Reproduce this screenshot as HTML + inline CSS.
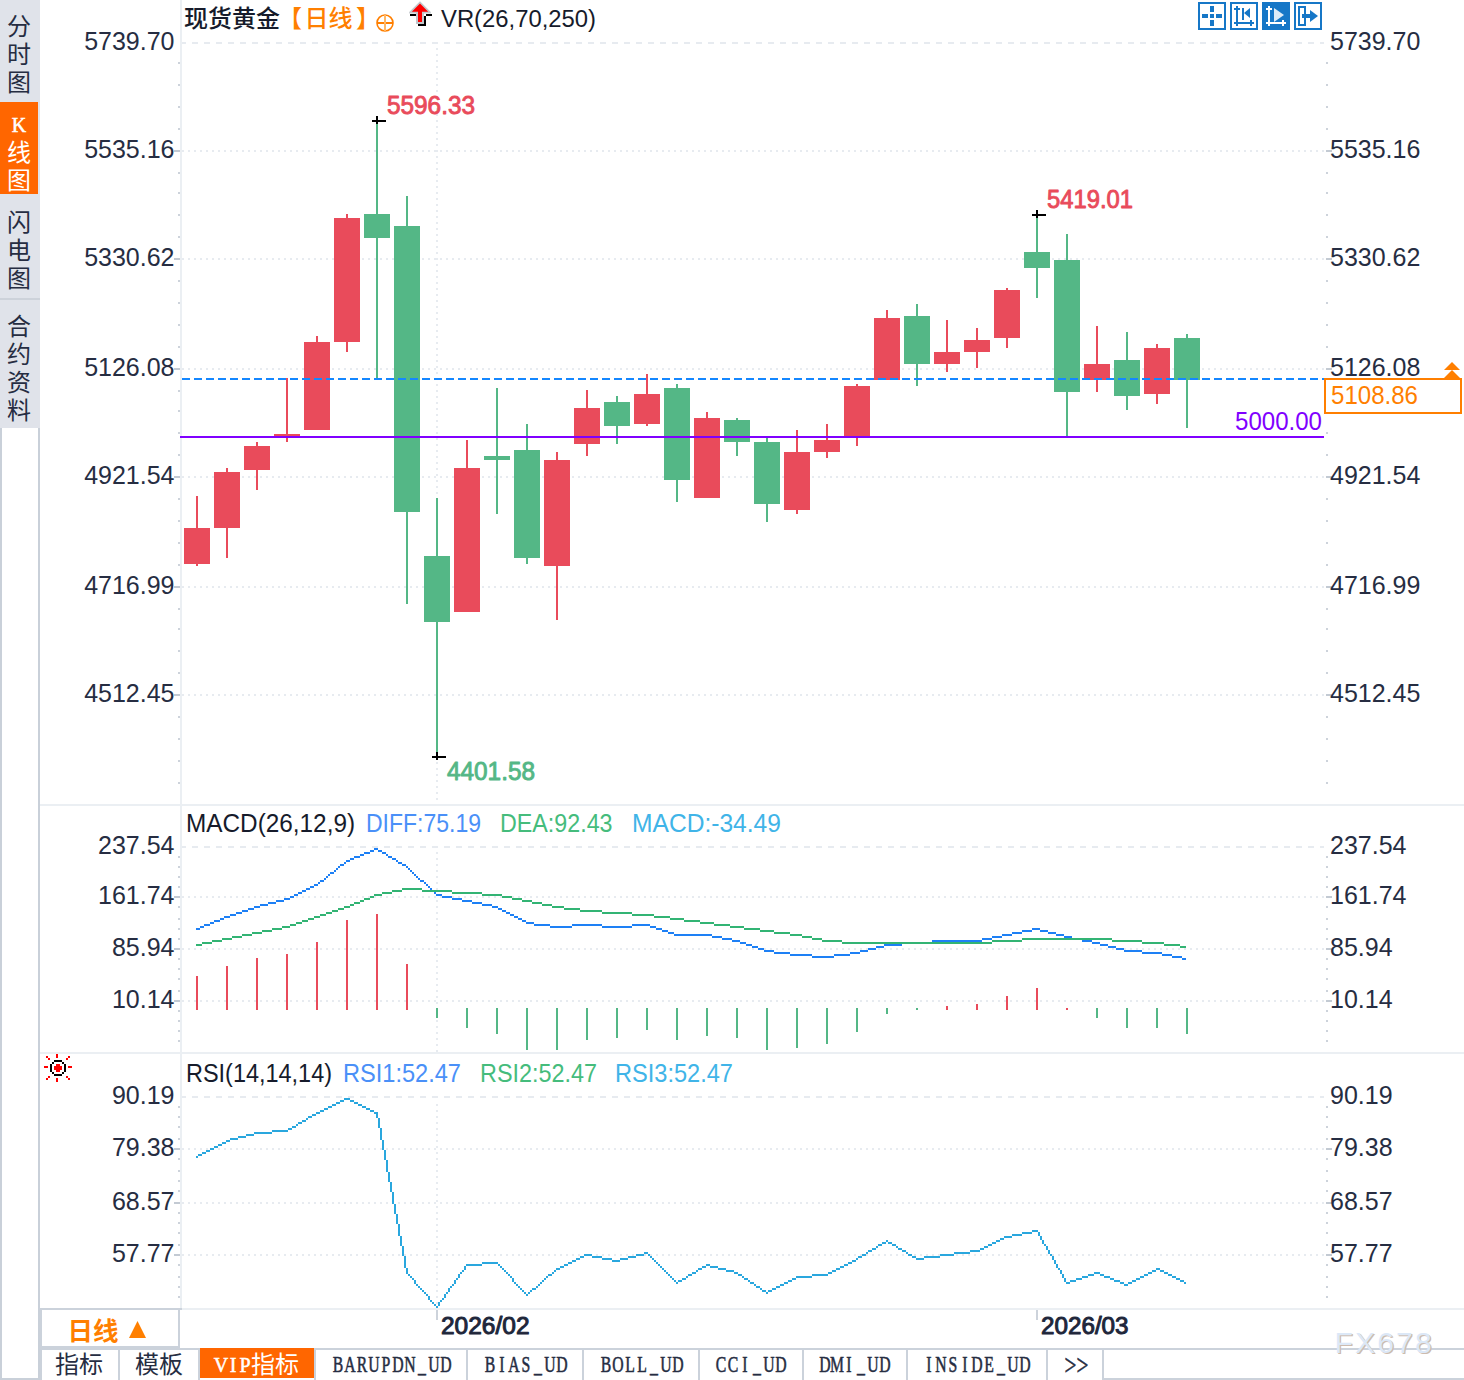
<!DOCTYPE html>
<html lang="zh-CN"><head><meta charset="utf-8"><title>现货黄金 日线</title>
<style>html,body{margin:0;padding:0;background:#fff}body{width:1464px;height:1380px;overflow:hidden}svg{display:block}text{white-space:pre}</style>
</head><body>
<svg width="1464" height="1380" viewBox="0 0 1464 1380" shape-rendering="crispEdges">
<defs><pattern id="dot" x="182" y="0" width="6" height="2" patternUnits="userSpaceOnUse"><rect x="0" y="0" width="2" height="2" fill="#E7EBF0"/></pattern><pattern id="dash" x="180" y="0" width="12" height="2" patternUnits="userSpaceOnUse"><rect x="0" y="0" width="6" height="2" fill="#E7EBF0"/></pattern><pattern id="vdot" x="0" y="48" width="2" height="6" patternUnits="userSpaceOnUse"><rect x="0" y="0" width="2" height="2" fill="#E7EBF0"/></pattern><pattern id="bdash" x="182" y="0" width="12" height="2" patternUnits="userSpaceOnUse"><rect x="0" y="0" width="8" height="2" fill="#1487FF"/></pattern></defs>
<rect x="0" y="0" width="1464" height="1380" fill="#FFFFFF"/>
<rect x="0" y="0" width="40" height="428" fill="#E0E3EA"/>
<rect x="0" y="102" width="38" height="92" fill="#FF6600"/>
<rect x="0" y="298" width="40" height="2" fill="#CDD2DA"/>
<rect x="0" y="428" width="2" height="952" fill="#C9D0D9"/>
<rect x="38" y="428" width="2" height="952" fill="#C9D0D9"/>
<rect x="0" y="1378" width="40" height="2" fill="#C9D0D9"/>
<text x="19 19 19" y="35 63 91" font-size="24" fill="#262D42" font-family='"Liberation Mono","Noto Sans CJK SC",monospace' text-anchor="middle">分时图</text>
<text x="19 19 19" y="132 161 189" font-size="24" fill="#FFFFFF" font-family='"Liberation Mono","Noto Sans CJK SC",monospace' text-anchor="middle"><tspan font-family='"Liberation Serif",serif' font-size="20" stroke="#FFFFFF" stroke-width="0.5">K</tspan>线图</text>
<text x="19 19 19" y="231 259 287" font-size="24" fill="#262D42" font-family='"Liberation Mono","Noto Sans CJK SC",monospace' text-anchor="middle">闪电图</text>
<text x="19 19 19 19" y="335 363 391 419" font-size="24" fill="#262D42" font-family='"Liberation Mono","Noto Sans CJK SC",monospace' text-anchor="middle">合约资料</text>
<rect x="180" y="0" width="2" height="1310" fill="#EBEFF3"/>
<rect x="40" y="804" width="1424" height="2" fill="#EBEFF3"/>
<rect x="40" y="1052" width="1424" height="2" fill="#EBEFF3"/>
<rect x="40" y="1308" width="1424" height="2" fill="#EBEFF3"/>
<rect x="182" y="42" width="1142" height="2" fill="url(#dash)"/>
<rect x="182" y="150" width="1142" height="2" fill="url(#dot)"/>
<rect x="182" y="258" width="1142" height="2" fill="url(#dot)"/>
<rect x="182" y="368" width="1142" height="2" fill="url(#dot)"/>
<rect x="182" y="476" width="1142" height="2" fill="url(#dot)"/>
<rect x="182" y="586" width="1142" height="2" fill="url(#dot)"/>
<rect x="182" y="694" width="1142" height="2" fill="url(#dot)"/>
<rect x="182" y="846" width="1142" height="2" fill="url(#dash)"/>
<rect x="182" y="896" width="1142" height="2" fill="url(#dot)"/>
<rect x="182" y="948" width="1142" height="2" fill="url(#dot)"/>
<rect x="182" y="1000" width="1142" height="2" fill="url(#dot)"/>
<rect x="182" y="1096" width="1142" height="2" fill="url(#dash)"/>
<rect x="182" y="1148" width="1142" height="2" fill="url(#dot)"/>
<rect x="182" y="1202" width="1142" height="2" fill="url(#dot)"/>
<rect x="182" y="1254" width="1142" height="2" fill="url(#dot)"/>
<rect x="436" y="48" width="2" height="756" fill="url(#vdot)"/>
<rect x="436" y="852" width="2" height="200" fill="url(#vdot)"/>
<rect x="436" y="1102" width="2" height="206" fill="url(#vdot)"/>
<rect x="178" y="62" width="2" height="2" fill="#CDD3DB"/>
<rect x="1326" y="62" width="2" height="2" fill="#CDD3DB"/>
<rect x="178" y="84" width="2" height="2" fill="#CDD3DB"/>
<rect x="1326" y="84" width="2" height="2" fill="#CDD3DB"/>
<rect x="178" y="106" width="2" height="2" fill="#CDD3DB"/>
<rect x="1326" y="106" width="2" height="2" fill="#CDD3DB"/>
<rect x="178" y="128" width="2" height="2" fill="#CDD3DB"/>
<rect x="1326" y="128" width="2" height="2" fill="#CDD3DB"/>
<rect x="178" y="172" width="2" height="2" fill="#CDD3DB"/>
<rect x="1326" y="172" width="2" height="2" fill="#CDD3DB"/>
<rect x="178" y="192" width="2" height="2" fill="#CDD3DB"/>
<rect x="1326" y="192" width="2" height="2" fill="#CDD3DB"/>
<rect x="178" y="214" width="2" height="2" fill="#CDD3DB"/>
<rect x="1326" y="214" width="2" height="2" fill="#CDD3DB"/>
<rect x="178" y="236" width="2" height="2" fill="#CDD3DB"/>
<rect x="1326" y="236" width="2" height="2" fill="#CDD3DB"/>
<rect x="178" y="280" width="2" height="2" fill="#CDD3DB"/>
<rect x="1326" y="280" width="2" height="2" fill="#CDD3DB"/>
<rect x="178" y="302" width="2" height="2" fill="#CDD3DB"/>
<rect x="1326" y="302" width="2" height="2" fill="#CDD3DB"/>
<rect x="178" y="324" width="2" height="2" fill="#CDD3DB"/>
<rect x="1326" y="324" width="2" height="2" fill="#CDD3DB"/>
<rect x="178" y="346" width="2" height="2" fill="#CDD3DB"/>
<rect x="1326" y="346" width="2" height="2" fill="#CDD3DB"/>
<rect x="178" y="390" width="2" height="2" fill="#CDD3DB"/>
<rect x="1326" y="390" width="2" height="2" fill="#CDD3DB"/>
<rect x="178" y="410" width="2" height="2" fill="#CDD3DB"/>
<rect x="1326" y="410" width="2" height="2" fill="#CDD3DB"/>
<rect x="178" y="432" width="2" height="2" fill="#CDD3DB"/>
<rect x="1326" y="432" width="2" height="2" fill="#CDD3DB"/>
<rect x="178" y="454" width="2" height="2" fill="#CDD3DB"/>
<rect x="1326" y="454" width="2" height="2" fill="#CDD3DB"/>
<rect x="178" y="498" width="2" height="2" fill="#CDD3DB"/>
<rect x="1326" y="498" width="2" height="2" fill="#CDD3DB"/>
<rect x="178" y="520" width="2" height="2" fill="#CDD3DB"/>
<rect x="1326" y="520" width="2" height="2" fill="#CDD3DB"/>
<rect x="178" y="542" width="2" height="2" fill="#CDD3DB"/>
<rect x="1326" y="542" width="2" height="2" fill="#CDD3DB"/>
<rect x="178" y="564" width="2" height="2" fill="#CDD3DB"/>
<rect x="1326" y="564" width="2" height="2" fill="#CDD3DB"/>
<rect x="178" y="608" width="2" height="2" fill="#CDD3DB"/>
<rect x="1326" y="608" width="2" height="2" fill="#CDD3DB"/>
<rect x="178" y="628" width="2" height="2" fill="#CDD3DB"/>
<rect x="1326" y="628" width="2" height="2" fill="#CDD3DB"/>
<rect x="178" y="650" width="2" height="2" fill="#CDD3DB"/>
<rect x="1326" y="650" width="2" height="2" fill="#CDD3DB"/>
<rect x="178" y="672" width="2" height="2" fill="#CDD3DB"/>
<rect x="1326" y="672" width="2" height="2" fill="#CDD3DB"/>
<rect x="178" y="716" width="2" height="2" fill="#CDD3DB"/>
<rect x="1326" y="716" width="2" height="2" fill="#CDD3DB"/>
<rect x="178" y="738" width="2" height="2" fill="#CDD3DB"/>
<rect x="1326" y="738" width="2" height="2" fill="#CDD3DB"/>
<rect x="178" y="760" width="2" height="2" fill="#CDD3DB"/>
<rect x="1326" y="760" width="2" height="2" fill="#CDD3DB"/>
<rect x="178" y="782" width="2" height="2" fill="#CDD3DB"/>
<rect x="1326" y="782" width="2" height="2" fill="#CDD3DB"/>
<rect x="174" y="150" width="6" height="2" fill="#C3CAD3"/>
<rect x="1326" y="150" width="6" height="2" fill="#C3CAD3"/>
<rect x="174" y="258" width="6" height="2" fill="#C3CAD3"/>
<rect x="1326" y="258" width="6" height="2" fill="#C3CAD3"/>
<rect x="174" y="368" width="6" height="2" fill="#C3CAD3"/>
<rect x="1326" y="368" width="6" height="2" fill="#C3CAD3"/>
<rect x="174" y="476" width="6" height="2" fill="#C3CAD3"/>
<rect x="1326" y="476" width="6" height="2" fill="#C3CAD3"/>
<rect x="174" y="586" width="6" height="2" fill="#C3CAD3"/>
<rect x="1326" y="586" width="6" height="2" fill="#C3CAD3"/>
<rect x="174" y="694" width="6" height="2" fill="#C3CAD3"/>
<rect x="1326" y="694" width="6" height="2" fill="#C3CAD3"/>
<rect x="178" y="856" width="2" height="2" fill="#CDD3DB"/>
<rect x="1326" y="856" width="2" height="2" fill="#CDD3DB"/>
<rect x="178" y="866" width="2" height="2" fill="#CDD3DB"/>
<rect x="1326" y="866" width="2" height="2" fill="#CDD3DB"/>
<rect x="178" y="876" width="2" height="2" fill="#CDD3DB"/>
<rect x="1326" y="876" width="2" height="2" fill="#CDD3DB"/>
<rect x="178" y="886" width="2" height="2" fill="#CDD3DB"/>
<rect x="1326" y="886" width="2" height="2" fill="#CDD3DB"/>
<rect x="178" y="906" width="2" height="2" fill="#CDD3DB"/>
<rect x="1326" y="906" width="2" height="2" fill="#CDD3DB"/>
<rect x="178" y="918" width="2" height="2" fill="#CDD3DB"/>
<rect x="1326" y="918" width="2" height="2" fill="#CDD3DB"/>
<rect x="178" y="928" width="2" height="2" fill="#CDD3DB"/>
<rect x="1326" y="928" width="2" height="2" fill="#CDD3DB"/>
<rect x="178" y="938" width="2" height="2" fill="#CDD3DB"/>
<rect x="1326" y="938" width="2" height="2" fill="#CDD3DB"/>
<rect x="178" y="958" width="2" height="2" fill="#CDD3DB"/>
<rect x="1326" y="958" width="2" height="2" fill="#CDD3DB"/>
<rect x="178" y="968" width="2" height="2" fill="#CDD3DB"/>
<rect x="1326" y="968" width="2" height="2" fill="#CDD3DB"/>
<rect x="178" y="978" width="2" height="2" fill="#CDD3DB"/>
<rect x="1326" y="978" width="2" height="2" fill="#CDD3DB"/>
<rect x="178" y="990" width="2" height="2" fill="#CDD3DB"/>
<rect x="1326" y="990" width="2" height="2" fill="#CDD3DB"/>
<rect x="178" y="1010" width="2" height="2" fill="#CDD3DB"/>
<rect x="1326" y="1010" width="2" height="2" fill="#CDD3DB"/>
<rect x="178" y="1020" width="2" height="2" fill="#CDD3DB"/>
<rect x="1326" y="1020" width="2" height="2" fill="#CDD3DB"/>
<rect x="178" y="1030" width="2" height="2" fill="#CDD3DB"/>
<rect x="1326" y="1030" width="2" height="2" fill="#CDD3DB"/>
<rect x="178" y="1040" width="2" height="2" fill="#CDD3DB"/>
<rect x="1326" y="1040" width="2" height="2" fill="#CDD3DB"/>
<rect x="178" y="1106" width="2" height="2" fill="#CDD3DB"/>
<rect x="1326" y="1106" width="2" height="2" fill="#CDD3DB"/>
<rect x="178" y="1116" width="2" height="2" fill="#CDD3DB"/>
<rect x="1326" y="1116" width="2" height="2" fill="#CDD3DB"/>
<rect x="178" y="1126" width="2" height="2" fill="#CDD3DB"/>
<rect x="1326" y="1126" width="2" height="2" fill="#CDD3DB"/>
<rect x="178" y="1138" width="2" height="2" fill="#CDD3DB"/>
<rect x="1326" y="1138" width="2" height="2" fill="#CDD3DB"/>
<rect x="178" y="1158" width="2" height="2" fill="#CDD3DB"/>
<rect x="1326" y="1158" width="2" height="2" fill="#CDD3DB"/>
<rect x="178" y="1170" width="2" height="2" fill="#CDD3DB"/>
<rect x="1326" y="1170" width="2" height="2" fill="#CDD3DB"/>
<rect x="178" y="1180" width="2" height="2" fill="#CDD3DB"/>
<rect x="1326" y="1180" width="2" height="2" fill="#CDD3DB"/>
<rect x="178" y="1190" width="2" height="2" fill="#CDD3DB"/>
<rect x="1326" y="1190" width="2" height="2" fill="#CDD3DB"/>
<rect x="178" y="1212" width="2" height="2" fill="#CDD3DB"/>
<rect x="1326" y="1212" width="2" height="2" fill="#CDD3DB"/>
<rect x="178" y="1222" width="2" height="2" fill="#CDD3DB"/>
<rect x="1326" y="1222" width="2" height="2" fill="#CDD3DB"/>
<rect x="178" y="1232" width="2" height="2" fill="#CDD3DB"/>
<rect x="1326" y="1232" width="2" height="2" fill="#CDD3DB"/>
<rect x="178" y="1244" width="2" height="2" fill="#CDD3DB"/>
<rect x="1326" y="1244" width="2" height="2" fill="#CDD3DB"/>
<rect x="178" y="1264" width="2" height="2" fill="#CDD3DB"/>
<rect x="1326" y="1264" width="2" height="2" fill="#CDD3DB"/>
<rect x="178" y="1276" width="2" height="2" fill="#CDD3DB"/>
<rect x="1326" y="1276" width="2" height="2" fill="#CDD3DB"/>
<rect x="178" y="1286" width="2" height="2" fill="#CDD3DB"/>
<rect x="1326" y="1286" width="2" height="2" fill="#CDD3DB"/>
<rect x="178" y="1296" width="2" height="2" fill="#CDD3DB"/>
<rect x="1326" y="1296" width="2" height="2" fill="#CDD3DB"/>
<rect x="174" y="896" width="6" height="2" fill="#C3CAD3"/>
<rect x="1326" y="896" width="6" height="2" fill="#C3CAD3"/>
<rect x="174" y="948" width="6" height="2" fill="#C3CAD3"/>
<rect x="1326" y="948" width="6" height="2" fill="#C3CAD3"/>
<rect x="174" y="1000" width="6" height="2" fill="#C3CAD3"/>
<rect x="1326" y="1000" width="6" height="2" fill="#C3CAD3"/>
<rect x="174" y="1148" width="6" height="2" fill="#C3CAD3"/>
<rect x="1326" y="1148" width="6" height="2" fill="#C3CAD3"/>
<rect x="174" y="1202" width="6" height="2" fill="#C3CAD3"/>
<rect x="1326" y="1202" width="6" height="2" fill="#C3CAD3"/>
<rect x="174" y="1254" width="6" height="2" fill="#C3CAD3"/>
<rect x="1326" y="1254" width="6" height="2" fill="#C3CAD3"/>
<rect x="196" y="496" width="2" height="70" fill="#E94B5B"/>
<rect x="184" y="528" width="26" height="36" fill="#E94B5B"/>
<rect x="226" y="468" width="2" height="90" fill="#E94B5B"/>
<rect x="214" y="472" width="26" height="56" fill="#E94B5B"/>
<rect x="256" y="442" width="2" height="48" fill="#E94B5B"/>
<rect x="244" y="446" width="26" height="24" fill="#E94B5B"/>
<rect x="286" y="378" width="2" height="64" fill="#E94B5B"/>
<rect x="274" y="434" width="26" height="2" fill="#E94B5B"/>
<rect x="316" y="336" width="2" height="94" fill="#E94B5B"/>
<rect x="304" y="342" width="26" height="88" fill="#E94B5B"/>
<rect x="346" y="214" width="2" height="138" fill="#E94B5B"/>
<rect x="334" y="218" width="26" height="124" fill="#E94B5B"/>
<rect x="376" y="120" width="2" height="260" fill="#54B786"/>
<rect x="364" y="214" width="26" height="24" fill="#54B786"/>
<rect x="406" y="196" width="2" height="408" fill="#54B786"/>
<rect x="394" y="226" width="26" height="286" fill="#54B786"/>
<rect x="436" y="498" width="2" height="258" fill="#54B786"/>
<rect x="424" y="556" width="26" height="66" fill="#54B786"/>
<rect x="466" y="440" width="2" height="172" fill="#E94B5B"/>
<rect x="454" y="468" width="26" height="144" fill="#E94B5B"/>
<rect x="496" y="388" width="2" height="126" fill="#54B786"/>
<rect x="484" y="456" width="26" height="4" fill="#54B786"/>
<rect x="526" y="424" width="2" height="140" fill="#54B786"/>
<rect x="514" y="450" width="26" height="108" fill="#54B786"/>
<rect x="556" y="452" width="2" height="168" fill="#E94B5B"/>
<rect x="544" y="460" width="26" height="106" fill="#E94B5B"/>
<rect x="586" y="390" width="2" height="66" fill="#E94B5B"/>
<rect x="574" y="408" width="26" height="36" fill="#E94B5B"/>
<rect x="616" y="396" width="2" height="48" fill="#54B786"/>
<rect x="604" y="402" width="26" height="24" fill="#54B786"/>
<rect x="646" y="374" width="2" height="52" fill="#E94B5B"/>
<rect x="634" y="394" width="26" height="30" fill="#E94B5B"/>
<rect x="676" y="384" width="2" height="118" fill="#54B786"/>
<rect x="664" y="388" width="26" height="92" fill="#54B786"/>
<rect x="706" y="412" width="2" height="86" fill="#E94B5B"/>
<rect x="694" y="418" width="26" height="80" fill="#E94B5B"/>
<rect x="736" y="418" width="2" height="38" fill="#54B786"/>
<rect x="724" y="420" width="26" height="22" fill="#54B786"/>
<rect x="766" y="438" width="2" height="84" fill="#54B786"/>
<rect x="754" y="442" width="26" height="62" fill="#54B786"/>
<rect x="796" y="430" width="2" height="84" fill="#E94B5B"/>
<rect x="784" y="452" width="26" height="58" fill="#E94B5B"/>
<rect x="826" y="424" width="2" height="34" fill="#E94B5B"/>
<rect x="814" y="440" width="26" height="12" fill="#E94B5B"/>
<rect x="856" y="384" width="2" height="62" fill="#E94B5B"/>
<rect x="844" y="386" width="26" height="52" fill="#E94B5B"/>
<rect x="886" y="310" width="2" height="70" fill="#E94B5B"/>
<rect x="874" y="318" width="26" height="62" fill="#E94B5B"/>
<rect x="916" y="304" width="2" height="82" fill="#54B786"/>
<rect x="904" y="316" width="26" height="48" fill="#54B786"/>
<rect x="946" y="320" width="2" height="52" fill="#E94B5B"/>
<rect x="934" y="352" width="26" height="12" fill="#E94B5B"/>
<rect x="976" y="328" width="2" height="40" fill="#E94B5B"/>
<rect x="964" y="340" width="26" height="12" fill="#E94B5B"/>
<rect x="1006" y="288" width="2" height="60" fill="#E94B5B"/>
<rect x="994" y="290" width="26" height="48" fill="#E94B5B"/>
<rect x="1036" y="216" width="2" height="82" fill="#54B786"/>
<rect x="1024" y="252" width="26" height="16" fill="#54B786"/>
<rect x="1066" y="234" width="2" height="202" fill="#54B786"/>
<rect x="1054" y="260" width="26" height="132" fill="#54B786"/>
<rect x="1096" y="326" width="2" height="66" fill="#E94B5B"/>
<rect x="1084" y="364" width="26" height="16" fill="#E94B5B"/>
<rect x="1126" y="332" width="2" height="78" fill="#54B786"/>
<rect x="1114" y="360" width="26" height="36" fill="#54B786"/>
<rect x="1156" y="344" width="2" height="60" fill="#E94B5B"/>
<rect x="1144" y="348" width="26" height="46" fill="#E94B5B"/>
<rect x="1186" y="334" width="2" height="94" fill="#54B786"/>
<rect x="1174" y="338" width="26" height="42" fill="#54B786"/>
<rect x="182" y="378" width="1142" height="2" fill="url(#bdash)"/>
<rect x="180" y="436" width="1144" height="2" fill="#8000FF"/>
<text x="1235.00" y="430" font-size="25" fill="#8000FF" font-family='"Liberation Sans","Noto Sans CJK SC",sans-serif' font-weight="normal" textLength="87.00" lengthAdjust="spacingAndGlyphs">5000.00</text>
<rect x="372" y="120" width="14" height="2" fill="#000"/>
<rect x="376" y="116" width="2" height="8" fill="#000"/>
<rect x="1032" y="214" width="14" height="2" fill="#000"/>
<rect x="1036" y="210" width="2" height="8" fill="#000"/>
<rect x="432" y="756" width="14" height="2" fill="#000"/>
<rect x="436" y="752" width="2" height="8" fill="#000"/>
<text x="387.00" y="114" font-size="25" fill="#E94B5B" font-family='"Liberation Sans","Noto Sans CJK SC",sans-serif' font-weight="normal" textLength="88.00" lengthAdjust="spacingAndGlyphs" stroke="#E94B5B" stroke-width="0.9" stroke-linejoin="round">5596.33</text>
<text x="1047.00" y="208" font-size="25" fill="#E94B5B" font-family='"Liberation Sans","Noto Sans CJK SC",sans-serif' font-weight="normal" textLength="86.00" lengthAdjust="spacingAndGlyphs" stroke="#E94B5B" stroke-width="0.9" stroke-linejoin="round">5419.01</text>
<text x="447.00" y="780" font-size="25" fill="#54B786" font-family='"Liberation Sans","Noto Sans CJK SC",sans-serif' font-weight="normal" textLength="88.00" lengthAdjust="spacingAndGlyphs" stroke="#54B786" stroke-width="0.9" stroke-linejoin="round">4401.58</text>
<text x="174.5" y="50" font-size="25" fill="#262D42" font-family='"Liberation Sans","Noto Sans CJK SC",sans-serif' text-anchor="end" font-weight="normal">5739.70</text>
<text x="1330" y="50" font-size="25" fill="#262D42" font-family='"Liberation Sans","Noto Sans CJK SC",sans-serif' text-anchor="start" font-weight="normal">5739.70</text>
<text x="174.5" y="158" font-size="25" fill="#262D42" font-family='"Liberation Sans","Noto Sans CJK SC",sans-serif' text-anchor="end" font-weight="normal">5535.16</text>
<text x="1330" y="158" font-size="25" fill="#262D42" font-family='"Liberation Sans","Noto Sans CJK SC",sans-serif' text-anchor="start" font-weight="normal">5535.16</text>
<text x="174.5" y="266" font-size="25" fill="#262D42" font-family='"Liberation Sans","Noto Sans CJK SC",sans-serif' text-anchor="end" font-weight="normal">5330.62</text>
<text x="1330" y="266" font-size="25" fill="#262D42" font-family='"Liberation Sans","Noto Sans CJK SC",sans-serif' text-anchor="start" font-weight="normal">5330.62</text>
<text x="174.5" y="376" font-size="25" fill="#262D42" font-family='"Liberation Sans","Noto Sans CJK SC",sans-serif' text-anchor="end" font-weight="normal">5126.08</text>
<text x="1330" y="376" font-size="25" fill="#262D42" font-family='"Liberation Sans","Noto Sans CJK SC",sans-serif' text-anchor="start" font-weight="normal">5126.08</text>
<text x="174.5" y="484" font-size="25" fill="#262D42" font-family='"Liberation Sans","Noto Sans CJK SC",sans-serif' text-anchor="end" font-weight="normal">4921.54</text>
<text x="1330" y="484" font-size="25" fill="#262D42" font-family='"Liberation Sans","Noto Sans CJK SC",sans-serif' text-anchor="start" font-weight="normal">4921.54</text>
<text x="174.5" y="594" font-size="25" fill="#262D42" font-family='"Liberation Sans","Noto Sans CJK SC",sans-serif' text-anchor="end" font-weight="normal">4716.99</text>
<text x="1330" y="594" font-size="25" fill="#262D42" font-family='"Liberation Sans","Noto Sans CJK SC",sans-serif' text-anchor="start" font-weight="normal">4716.99</text>
<text x="174.5" y="702" font-size="25" fill="#262D42" font-family='"Liberation Sans","Noto Sans CJK SC",sans-serif' text-anchor="end" font-weight="normal">4512.45</text>
<text x="1330" y="702" font-size="25" fill="#262D42" font-family='"Liberation Sans","Noto Sans CJK SC",sans-serif' text-anchor="start" font-weight="normal">4512.45</text>
<text x="174.5" y="854" font-size="25" fill="#262D42" font-family='"Liberation Sans","Noto Sans CJK SC",sans-serif' text-anchor="end" font-weight="normal">237.54</text>
<text x="1330" y="854" font-size="25" fill="#262D42" font-family='"Liberation Sans","Noto Sans CJK SC",sans-serif' text-anchor="start" font-weight="normal">237.54</text>
<text x="174.5" y="904" font-size="25" fill="#262D42" font-family='"Liberation Sans","Noto Sans CJK SC",sans-serif' text-anchor="end" font-weight="normal">161.74</text>
<text x="1330" y="904" font-size="25" fill="#262D42" font-family='"Liberation Sans","Noto Sans CJK SC",sans-serif' text-anchor="start" font-weight="normal">161.74</text>
<text x="174.5" y="956" font-size="25" fill="#262D42" font-family='"Liberation Sans","Noto Sans CJK SC",sans-serif' text-anchor="end" font-weight="normal">85.94</text>
<text x="1330" y="956" font-size="25" fill="#262D42" font-family='"Liberation Sans","Noto Sans CJK SC",sans-serif' text-anchor="start" font-weight="normal">85.94</text>
<text x="174.5" y="1008" font-size="25" fill="#262D42" font-family='"Liberation Sans","Noto Sans CJK SC",sans-serif' text-anchor="end" font-weight="normal">10.14</text>
<text x="1330" y="1008" font-size="25" fill="#262D42" font-family='"Liberation Sans","Noto Sans CJK SC",sans-serif' text-anchor="start" font-weight="normal">10.14</text>
<text x="174.5" y="1104" font-size="25" fill="#262D42" font-family='"Liberation Sans","Noto Sans CJK SC",sans-serif' text-anchor="end" font-weight="normal">90.19</text>
<text x="1330" y="1104" font-size="25" fill="#262D42" font-family='"Liberation Sans","Noto Sans CJK SC",sans-serif' text-anchor="start" font-weight="normal">90.19</text>
<text x="174.5" y="1156" font-size="25" fill="#262D42" font-family='"Liberation Sans","Noto Sans CJK SC",sans-serif' text-anchor="end" font-weight="normal">79.38</text>
<text x="1330" y="1156" font-size="25" fill="#262D42" font-family='"Liberation Sans","Noto Sans CJK SC",sans-serif' text-anchor="start" font-weight="normal">79.38</text>
<text x="174.5" y="1210" font-size="25" fill="#262D42" font-family='"Liberation Sans","Noto Sans CJK SC",sans-serif' text-anchor="end" font-weight="normal">68.57</text>
<text x="1330" y="1210" font-size="25" fill="#262D42" font-family='"Liberation Sans","Noto Sans CJK SC",sans-serif' text-anchor="start" font-weight="normal">68.57</text>
<text x="174.5" y="1262" font-size="25" fill="#262D42" font-family='"Liberation Sans","Noto Sans CJK SC",sans-serif' text-anchor="end" font-weight="normal">57.77</text>
<text x="1330" y="1262" font-size="25" fill="#262D42" font-family='"Liberation Sans","Noto Sans CJK SC",sans-serif' text-anchor="start" font-weight="normal">57.77</text>
<rect x="1324" y="378" width="138" height="36" fill="#FF7F00"/>
<rect x="1326" y="380" width="134" height="32" fill="#FFFFFF"/>
<text x="1331.00" y="404" font-size="25" fill="#FF7F00" font-family='"Liberation Sans","Noto Sans CJK SC",sans-serif' font-weight="normal" textLength="87.00" lengthAdjust="spacingAndGlyphs">5108.86</text>
<polygon points="1452,362 1460,370 1444,370" fill="#FF7F00" shape-rendering="auto"/>
<polygon points="1452,370 1460,378 1444,378" fill="#FF7F00" shape-rendering="auto"/>
<rect x="196" y="976" width="2" height="34" fill="#E94B5B"/>
<rect x="226" y="966" width="2" height="44" fill="#E94B5B"/>
<rect x="256" y="958" width="2" height="52" fill="#E94B5B"/>
<rect x="286" y="954" width="2" height="56" fill="#E94B5B"/>
<rect x="316" y="942" width="2" height="68" fill="#E94B5B"/>
<rect x="346" y="920" width="2" height="90" fill="#E94B5B"/>
<rect x="376" y="914" width="2" height="96" fill="#E94B5B"/>
<rect x="406" y="964" width="2" height="46" fill="#E94B5B"/>
<rect x="436" y="1008" width="2" height="10" fill="#54B786"/>
<rect x="466" y="1008" width="2" height="20" fill="#54B786"/>
<rect x="496" y="1008" width="2" height="26" fill="#54B786"/>
<rect x="526" y="1008" width="2" height="42" fill="#54B786"/>
<rect x="556" y="1008" width="2" height="42" fill="#54B786"/>
<rect x="586" y="1008" width="2" height="32" fill="#54B786"/>
<rect x="616" y="1008" width="2" height="30" fill="#54B786"/>
<rect x="646" y="1008" width="2" height="22" fill="#54B786"/>
<rect x="676" y="1008" width="2" height="32" fill="#54B786"/>
<rect x="706" y="1008" width="2" height="28" fill="#54B786"/>
<rect x="736" y="1008" width="2" height="30" fill="#54B786"/>
<rect x="766" y="1008" width="2" height="42" fill="#54B786"/>
<rect x="796" y="1008" width="2" height="40" fill="#54B786"/>
<rect x="826" y="1008" width="2" height="36" fill="#54B786"/>
<rect x="856" y="1008" width="2" height="24" fill="#54B786"/>
<rect x="886" y="1008" width="2" height="6" fill="#54B786"/>
<rect x="916" y="1008" width="2" height="2" fill="#54B786"/>
<rect x="946" y="1006" width="2" height="4" fill="#E94B5B"/>
<rect x="976" y="1004" width="2" height="6" fill="#E94B5B"/>
<rect x="1006" y="996" width="2" height="14" fill="#E94B5B"/>
<rect x="1036" y="988" width="2" height="22" fill="#E94B5B"/>
<rect x="1066" y="1008" width="2" height="2" fill="#E94B5B"/>
<rect x="1096" y="1008" width="2" height="10" fill="#54B786"/>
<rect x="1126" y="1008" width="2" height="20" fill="#54B786"/>
<rect x="1156" y="1008" width="2" height="20" fill="#54B786"/>
<rect x="1186" y="1008" width="2" height="26" fill="#54B786"/>
<path d="M374 848h4v2h-4zM370 850h4v2h-4zM378 850h4v2h-4zM364 852h6v2h-6zM382 852h4v2h-4zM360 854h4v2h-4zM386 854h2v2h-2zM354 856h6v2h-6zM388 856h4v2h-4zM350 858h4v2h-4zM392 858h4v2h-4zM346 860h4v2h-4zM396 860h2v2h-2zM344 862h2v2h-2zM398 862h4v2h-4zM340 864h4v2h-4zM402 864h4v2h-4zM338 866h2v2h-2zM406 866h2v2h-2zM336 868h2v2h-2zM408 868h2v2h-2zM334 870h2v2h-2zM410 870h2v2h-2zM330 872h4v2h-4zM412 872h2v2h-2zM328 874h2v2h-2zM414 874h2v2h-2zM326 876h2v2h-2zM416 876h2v2h-2zM324 878h2v2h-2zM418 878h2v2h-2zM320 880h4v2h-4zM420 880h4v2h-4zM318 882h2v2h-2zM424 882h2v2h-2zM314 884h4v2h-4zM426 884h2v2h-2zM310 886h4v2h-4zM428 886h2v2h-2zM306 888h4v2h-4zM430 888h2v2h-2zM302 890h4v2h-4zM432 890h2v2h-2zM298 892h4v2h-4zM434 892h2v2h-2zM294 894h4v2h-4zM436 894h6v2h-6zM290 896h4v2h-4zM442 896h10v2h-10zM284 898h6v2h-6zM452 898h10v2h-10zM276 900h8v2h-8zM462 900h10v2h-10zM268 902h8v2h-8zM472 902h10v2h-10zM260 904h8v2h-8zM482 904h10v2h-10zM254 906h6v2h-6zM492 906h6v2h-6zM248 908h6v2h-6zM498 908h4v2h-4zM242 910h6v2h-6zM502 910h4v2h-4zM236 912h6v2h-6zM506 912h4v2h-4zM230 914h6v2h-6zM510 914h4v2h-4zM224 916h6v2h-6zM514 916h4v2h-4zM220 918h4v2h-4zM518 918h4v2h-4zM214 920h6v2h-6zM522 920h4v2h-4zM210 922h4v2h-4zM526 922h8v2h-8zM204 924h6v2h-6zM534 924h16v2h-16zM572 924h30v2h-30zM632 924h18v2h-18zM200 926h4v2h-4zM550 926h22v2h-22zM602 926h30v2h-30zM650 926h6v2h-6zM196 928h4v2h-4zM656 928h6v2h-6zM1032 928h8v2h-8zM662 930h6v2h-6zM1022 930h10v2h-10zM1040 930h8v2h-8zM668 932h6v2h-6zM1012 932h10v2h-10zM1048 932h8v2h-8zM674 934h38v2h-38zM1002 934h10v2h-10zM1056 934h8v2h-8zM712 936h10v2h-10zM992 936h10v2h-10zM1064 936h8v2h-8zM722 938h10v2h-10zM982 938h10v2h-10zM1072 938h10v2h-10zM732 940h8v2h-8zM932 940h50v2h-50zM1082 940h10v2h-10zM740 942h6v2h-6zM902 942h30v2h-30zM1092 942h8v2h-8zM746 944h6v2h-6zM884 944h18v2h-18zM1100 944h8v2h-8zM752 946h6v2h-6zM876 946h8v2h-8zM1108 946h8v2h-8zM758 948h6v2h-6zM868 948h8v2h-8zM1116 948h8v2h-8zM764 950h10v2h-10zM860 950h8v2h-8zM1124 950h18v2h-18zM774 952h16v2h-16zM850 952h10v2h-10zM1142 952h20v2h-20zM790 954h22v2h-22zM834 954h16v2h-16zM1162 954h10v2h-10zM812 956h22v2h-22zM1172 956h10v2h-10zM1182 958h4v2h-4z" fill="#1E80F5"/>
<path d="M402 888h20v2h-20zM392 890h10v2h-10zM422 890h30v2h-30zM382 892h10v2h-10zM452 892h30v2h-30zM374 894h8v2h-8zM482 894h20v2h-20zM370 896h4v2h-4zM502 896h10v2h-10zM364 898h6v2h-6zM512 898h10v2h-10zM360 900h4v2h-4zM522 900h10v2h-10zM354 902h6v2h-6zM532 902h10v2h-10zM350 904h4v2h-4zM542 904h10v2h-10zM344 906h6v2h-6zM552 906h12v2h-12zM338 908h6v2h-6zM564 908h16v2h-16zM332 910h6v2h-6zM580 910h22v2h-22zM326 912h6v2h-6zM602 912h30v2h-30zM320 914h6v2h-6zM632 914h22v2h-22zM314 916h6v2h-6zM654 916h16v2h-16zM308 918h6v2h-6zM670 918h14v2h-14zM302 920h6v2h-6zM684 920h16v2h-16zM296 922h6v2h-6zM700 922h14v2h-14zM290 924h6v2h-6zM714 924h16v2h-16zM282 926h8v2h-8zM730 926h14v2h-14zM272 928h10v2h-10zM744 928h16v2h-16zM262 930h10v2h-10zM760 930h14v2h-14zM252 932h10v2h-10zM774 932h16v2h-16zM242 934h10v2h-10zM790 934h12v2h-12zM232 936h10v2h-10zM802 936h10v2h-10zM222 938h10v2h-10zM812 938h10v2h-10zM1022 938h90v2h-90zM212 940h10v2h-10zM822 940h20v2h-20zM992 940h30v2h-30zM1112 940h30v2h-30zM202 942h10v2h-10zM842 942h150v2h-150zM1142 942h22v2h-22zM196 944h6v2h-6zM1164 944h16v2h-16zM1180 946h6v2h-6z" fill="#33B474"/>
<path d="M344 1098h6v2h-6zM340 1100h4v2h-4zM350 1100h4v2h-4zM336 1102h4v2h-4zM354 1102h4v2h-4zM332 1104h4v2h-4zM358 1104h4v2h-4zM328 1106h4v2h-4zM362 1106h4v2h-4zM324 1108h4v2h-4zM366 1108h4v2h-4zM320 1110h4v2h-4zM370 1110h4v2h-4zM316 1112h4v2h-4zM374 1112h4v2h-4zM312 1114h4v2h-4zM376 1114h2v2h-2zM308 1116h4v2h-4zM376 1116h2v2h-2zM306 1118h2v2h-2zM378 1118h2v2h-2zM302 1120h4v2h-4zM378 1120h2v2h-2zM298 1122h4v2h-4zM378 1122h2v2h-2zM296 1124h2v2h-2zM378 1124h2v2h-2zM292 1126h4v2h-4zM378 1126h2v2h-2zM288 1128h4v2h-4zM380 1128h2v2h-2zM272 1130h16v2h-16zM380 1130h2v2h-2zM254 1132h18v2h-18zM380 1132h2v2h-2zM246 1134h8v2h-8zM380 1134h2v2h-2zM238 1136h8v2h-8zM380 1136h2v2h-2zM230 1138h8v2h-8zM380 1138h2v2h-2zM226 1140h4v2h-4zM382 1140h2v2h-2zM222 1142h4v2h-4zM382 1142h2v2h-2zM218 1144h4v2h-4zM382 1144h2v2h-2zM214 1146h4v2h-4zM382 1146h2v2h-2zM210 1148h4v2h-4zM382 1148h2v2h-2zM206 1150h4v2h-4zM384 1150h2v2h-2zM202 1152h4v2h-4zM384 1152h2v2h-2zM198 1154h4v2h-4zM384 1154h2v2h-2zM196 1156h2v2h-2zM384 1156h2v2h-2zM384 1158h2v2h-2zM386 1160h2v2h-2zM386 1162h2v2h-2zM386 1164h2v2h-2zM386 1166h2v2h-2zM386 1168h2v2h-2zM386 1170h2v2h-2zM388 1172h2v2h-2zM388 1174h2v2h-2zM388 1176h2v2h-2zM388 1178h2v2h-2zM388 1180h2v2h-2zM390 1182h2v2h-2zM390 1184h2v2h-2zM390 1186h2v2h-2zM390 1188h2v2h-2zM390 1190h2v2h-2zM392 1192h2v2h-2zM392 1194h2v2h-2zM392 1196h2v2h-2zM392 1198h2v2h-2zM392 1200h2v2h-2zM392 1202h2v2h-2zM394 1204h2v2h-2zM394 1206h2v2h-2zM394 1208h2v2h-2zM394 1210h2v2h-2zM394 1212h2v2h-2zM396 1214h2v2h-2zM396 1216h2v2h-2zM396 1218h2v2h-2zM396 1220h2v2h-2zM396 1222h2v2h-2zM398 1224h2v2h-2zM398 1226h2v2h-2zM398 1228h2v2h-2zM398 1230h2v2h-2zM1032 1230h6v2h-6zM398 1232h2v2h-2zM1022 1232h10v2h-10zM1038 1232h2v2h-2zM398 1234h2v2h-2zM1012 1234h10v2h-10zM1038 1234h2v2h-2zM400 1236h2v2h-2zM1004 1236h8v2h-8zM1040 1236h2v2h-2zM400 1238h2v2h-2zM1000 1238h4v2h-4zM1040 1238h2v2h-2zM400 1240h2v2h-2zM886 1240h2v2h-2zM996 1240h4v2h-4zM1042 1240h2v2h-2zM400 1242h2v2h-2zM882 1242h4v2h-4zM888 1242h4v2h-4zM992 1242h4v2h-4zM1042 1242h2v2h-2zM400 1244h2v2h-2zM878 1244h4v2h-4zM892 1244h4v2h-4zM988 1244h4v2h-4zM1044 1244h2v2h-2zM402 1246h2v2h-2zM876 1246h2v2h-2zM896 1246h2v2h-2zM984 1246h4v2h-4zM1046 1246h2v2h-2zM402 1248h2v2h-2zM872 1248h4v2h-4zM898 1248h4v2h-4zM980 1248h4v2h-4zM1046 1248h2v2h-2zM402 1250h2v2h-2zM868 1250h4v2h-4zM902 1250h4v2h-4zM970 1250h10v2h-10zM1048 1250h2v2h-2zM402 1252h2v2h-2zM644 1252h4v2h-4zM866 1252h2v2h-2zM906 1252h2v2h-2zM954 1252h16v2h-16zM1048 1252h2v2h-2zM402 1254h2v2h-2zM584 1254h8v2h-8zM636 1254h8v2h-8zM648 1254h2v2h-2zM862 1254h4v2h-4zM908 1254h4v2h-4zM940 1254h14v2h-14zM1050 1254h2v2h-2zM404 1256h2v2h-2zM580 1256h4v2h-4zM592 1256h10v2h-10zM628 1256h8v2h-8zM650 1256h2v2h-2zM858 1256h4v2h-4zM912 1256h4v2h-4zM924 1256h16v2h-16zM1052 1256h2v2h-2zM404 1258h2v2h-2zM576 1258h4v2h-4zM602 1258h10v2h-10zM620 1258h8v2h-8zM652 1258h2v2h-2zM856 1258h2v2h-2zM916 1258h8v2h-8zM1052 1258h2v2h-2zM404 1260h2v2h-2zM572 1260h4v2h-4zM612 1260h8v2h-8zM654 1260h2v2h-2zM852 1260h4v2h-4zM1054 1260h2v2h-2zM404 1262h2v2h-2zM482 1262h16v2h-16zM568 1262h4v2h-4zM656 1262h2v2h-2zM848 1262h4v2h-4zM1054 1262h2v2h-2zM404 1264h2v2h-2zM466 1264h16v2h-16zM498 1264h2v2h-2zM564 1264h4v2h-4zM658 1264h2v2h-2zM706 1264h4v2h-4zM844 1264h4v2h-4zM1056 1264h2v2h-2zM404 1266h2v2h-2zM464 1266h2v2h-2zM500 1266h2v2h-2zM560 1266h4v2h-4zM660 1266h2v2h-2zM702 1266h4v2h-4zM710 1266h8v2h-8zM840 1266h4v2h-4zM1056 1266h2v2h-2zM406 1268h2v2h-2zM464 1268h2v2h-2zM502 1268h2v2h-2zM556 1268h4v2h-4zM662 1268h2v2h-2zM698 1268h4v2h-4zM718 1268h8v2h-8zM836 1268h4v2h-4zM1058 1268h2v2h-2zM1156 1268h4v2h-4zM406 1270h2v2h-2zM462 1270h2v2h-2zM504 1270h2v2h-2zM554 1270h2v2h-2zM664 1270h2v2h-2zM696 1270h2v2h-2zM726 1270h8v2h-8zM832 1270h4v2h-4zM1060 1270h2v2h-2zM1152 1270h4v2h-4zM1160 1270h4v2h-4zM406 1272h2v2h-2zM460 1272h2v2h-2zM506 1272h2v2h-2zM552 1272h2v2h-2zM666 1272h2v2h-2zM692 1272h4v2h-4zM734 1272h4v2h-4zM828 1272h4v2h-4zM1060 1272h2v2h-2zM1094 1272h6v2h-6zM1148 1272h4v2h-4zM1164 1272h4v2h-4zM408 1274h2v2h-2zM458 1274h2v2h-2zM508 1274h2v2h-2zM548 1274h4v2h-4zM668 1274h2v2h-2zM688 1274h4v2h-4zM738 1274h4v2h-4zM812 1274h16v2h-16zM1062 1274h2v2h-2zM1088 1274h6v2h-6zM1100 1274h4v2h-4zM1144 1274h4v2h-4zM1168 1274h4v2h-4zM410 1276h2v2h-2zM458 1276h2v2h-2zM510 1276h2v2h-2zM546 1276h2v2h-2zM670 1276h2v2h-2zM686 1276h2v2h-2zM742 1276h2v2h-2zM796 1276h16v2h-16zM1062 1276h2v2h-2zM1082 1276h6v2h-6zM1104 1276h6v2h-6zM1140 1276h4v2h-4zM1172 1276h4v2h-4zM412 1278h2v2h-2zM456 1278h2v2h-2zM512 1278h2v2h-2zM544 1278h2v2h-2zM672 1278h2v2h-2zM682 1278h4v2h-4zM744 1278h4v2h-4zM792 1278h4v2h-4zM1064 1278h2v2h-2zM1076 1278h6v2h-6zM1110 1278h4v2h-4zM1136 1278h4v2h-4zM1176 1278h4v2h-4zM414 1280h2v2h-2zM454 1280h2v2h-2zM512 1280h2v2h-2zM542 1280h2v2h-2zM674 1280h2v2h-2zM678 1280h4v2h-4zM748 1280h2v2h-2zM788 1280h4v2h-4zM1064 1280h2v2h-2zM1070 1280h6v2h-6zM1114 1280h6v2h-6zM1132 1280h4v2h-4zM1180 1280h4v2h-4zM414 1282h2v2h-2zM454 1282h2v2h-2zM514 1282h2v2h-2zM540 1282h2v2h-2zM676 1282h2v2h-2zM750 1282h4v2h-4zM784 1282h4v2h-4zM1066 1282h4v2h-4zM1120 1282h4v2h-4zM1128 1282h4v2h-4zM1184 1282h2v2h-2zM416 1284h2v2h-2zM452 1284h2v2h-2zM516 1284h2v2h-2zM538 1284h2v2h-2zM754 1284h2v2h-2zM780 1284h4v2h-4zM1124 1284h4v2h-4zM418 1286h2v2h-2zM450 1286h2v2h-2zM518 1286h2v2h-2zM536 1286h2v2h-2zM756 1286h4v2h-4zM776 1286h4v2h-4zM420 1288h2v2h-2zM448 1288h2v2h-2zM520 1288h2v2h-2zM532 1288h4v2h-4zM760 1288h2v2h-2zM772 1288h4v2h-4zM422 1290h2v2h-2zM448 1290h2v2h-2zM522 1290h2v2h-2zM530 1290h2v2h-2zM762 1290h4v2h-4zM768 1290h4v2h-4zM424 1292h2v2h-2zM446 1292h2v2h-2zM524 1292h2v2h-2zM528 1292h2v2h-2zM766 1292h2v2h-2zM426 1294h2v2h-2zM444 1294h2v2h-2zM526 1294h2v2h-2zM428 1296h2v2h-2zM444 1296h2v2h-2zM428 1298h2v2h-2zM442 1298h2v2h-2zM430 1300h2v2h-2zM440 1300h2v2h-2zM432 1302h2v2h-2zM438 1302h2v2h-2zM434 1304h2v2h-2zM438 1304h2v2h-2zM436 1306h2v2h-2z" fill="#2AA7DE"/>
<text x="184 208 232 256 278 304.5 328.5 356" y="27.2" font-size="24" font-weight="500" font-family='"Liberation Sans","Noto Sans CJK SC",sans-serif' fill="#161B2B">现货黄金<tspan fill="#FF7F00">【日线】</tspan></text>
<g shape-rendering="auto"><circle cx="385" cy="23" r="8" fill="none" stroke="#FF7F00" stroke-width="1.6"/><path d="M377 23H393" stroke="#FF7F00" stroke-width="2"/><path d="M385 15V31" stroke="#FFB866" stroke-width="2"/></g>
<g><path d="M420 1.2 L430.8 12 L430.8 13.5 L424 13.5 L424 24 L416 24 L416 13.5 L409.2 13.5 L409.2 12 Z" fill="#C2C8CC" shape-rendering="auto"/><path d="M420 3.6 L428.2 11.8 L422 11.8 L422 22 L418 22 L418 11.8 L411.8 11.8 Z" fill="#FF0000" shape-rendering="auto"/><rect x="410" y="14" width="6" height="2" fill="#000"/><rect x="426" y="14" width="6" height="2" fill="#000"/><rect x="424" y="16" width="2" height="8" fill="#000"/><rect x="418" y="24" width="8" height="2" fill="#000"/></g>
<text x="441.00" y="27.3" font-size="24.4" fill="#161B2B" font-family='"Liberation Sans","Noto Sans CJK SC",sans-serif' font-weight="normal" textLength="155.03" lengthAdjust="spacingAndGlyphs">VR(26,70,250)</text>
<text x="186.00" y="832" font-size="25" fill="#161B2B" font-family='"Liberation Sans","Noto Sans CJK SC",sans-serif' font-weight="normal" textLength="169.05" lengthAdjust="spacingAndGlyphs">MACD(26,12,9)</text>
<text x="366.00" y="832" font-size="25" fill="#4A90F8" font-family='"Liberation Sans","Noto Sans CJK SC",sans-serif' font-weight="normal" textLength="115.05" lengthAdjust="spacingAndGlyphs">DIFF:75.19</text>
<text x="500.00" y="832" font-size="25" fill="#45BC7C" font-family='"Liberation Sans","Noto Sans CJK SC",sans-serif' font-weight="normal" textLength="112.54" lengthAdjust="spacingAndGlyphs">DEA:92.43</text>
<text x="632.00" y="832" font-size="25" fill="#40B4E8" font-family='"Liberation Sans","Noto Sans CJK SC",sans-serif' font-weight="normal" textLength="148.95" lengthAdjust="spacingAndGlyphs">MACD:-34.49</text>
<text x="186.00" y="1082" font-size="25" fill="#161B2B" font-family='"Liberation Sans","Noto Sans CJK SC",sans-serif' font-weight="normal" textLength="146.02" lengthAdjust="spacingAndGlyphs">RSI(14,14,14)</text>
<text x="343.00" y="1082" font-size="25" fill="#4A90F8" font-family='"Liberation Sans","Noto Sans CJK SC",sans-serif' font-weight="normal" textLength="117.97" lengthAdjust="spacingAndGlyphs">RSI1:52.47</text>
<text x="480.00" y="1082" font-size="25" fill="#45BC7C" font-family='"Liberation Sans","Noto Sans CJK SC",sans-serif' font-weight="normal" textLength="116.97" lengthAdjust="spacingAndGlyphs">RSI2:52.47</text>
<text x="615.00" y="1082" font-size="25" fill="#40B4E8" font-family='"Liberation Sans","Noto Sans CJK SC",sans-serif' font-weight="normal" textLength="117.97" lengthAdjust="spacingAndGlyphs">RSI3:52.47</text>
<rect x="1198" y="2" width="28" height="28" fill="#1677C7"/>
<rect x="1200" y="4" width="24" height="24" fill="#FFFFFF"/>
<rect x="1230" y="2" width="28" height="28" fill="#1677C7"/>
<rect x="1232" y="4" width="24" height="24" fill="#FFFFFF"/>
<rect x="1262" y="2" width="28" height="28" fill="#1677C7"/>
<rect x="1294" y="2" width="28" height="28" fill="#1677C7"/>
<rect x="1296" y="4" width="24" height="24" fill="#FFFFFF"/>
<rect x="1210" y="6" width="4" height="6" fill="#1677C7"/>
<rect x="1210" y="14" width="4" height="4" fill="#1677C7"/>
<rect x="1202" y="14" width="6" height="4" fill="#1677C7"/>
<rect x="1216" y="14" width="6" height="4" fill="#1677C7"/>
<rect x="1210" y="20" width="4" height="6" fill="#1677C7"/>
<rect x="1236" y="6" width="2" height="20" fill="#1677C7"/>
<rect x="1234" y="8" width="6" height="2" fill="#1677C7"/>
<rect x="1234" y="22" width="20" height="2" fill="#1677C7"/>
<rect x="1250" y="20" width="2" height="6" fill="#1677C7"/>
<rect x="1242" y="8" width="2" height="12" fill="#1677C7"/>
<polygon points="1244,13 1250,8 1250,18" fill="#1677C7" shape-rendering="auto"/>
<rect x="1268" y="6" width="2" height="20" fill="#FFFFFF"/>
<rect x="1266" y="8" width="6" height="2" fill="#FFFFFF"/>
<rect x="1266" y="22" width="20" height="2" fill="#FFFFFF"/>
<rect x="1282" y="20" width="2" height="6" fill="#FFFFFF"/>
<polygon points="1274,8 1284,15 1274,22" fill="#DCEBF7" shape-rendering="auto"/>
<rect x="1298" y="6" width="8" height="20" fill="#1677C7"/>
<rect x="1300" y="8" width="4" height="16" fill="#FFFFFF"/>
<rect x="1302" y="14" width="10" height="4" fill="#1677C7"/>
<polygon points="1310,10 1318,16 1310,22" fill="#1677C7" shape-rendering="auto"/>
<rect x="56" y="1054" width="2" height="4" fill="#FF0000"/>
<rect x="56" y="1078" width="2" height="4" fill="#FF0000"/>
<rect x="44" y="1066" width="4" height="2" fill="#FF0000"/>
<rect x="68" y="1066" width="4" height="2" fill="#FF0000"/>
<rect x="46" y="1056" width="2" height="2" fill="#FF0000"/>
<rect x="48" y="1058" width="2" height="2" fill="#FF0000"/>
<rect x="68" y="1056" width="2" height="2" fill="#FF0000"/>
<rect x="66" y="1058" width="2" height="2" fill="#FF0000"/>
<rect x="48" y="1076" width="2" height="2" fill="#FF0000"/>
<rect x="46" y="1078" width="2" height="2" fill="#FF0000"/>
<rect x="66" y="1076" width="2" height="2" fill="#FF0000"/>
<rect x="68" y="1078" width="2" height="2" fill="#FF0000"/>
<rect x="54" y="1060" width="8" height="2" fill="#000"/>
<rect x="54" y="1074" width="8" height="2" fill="#000"/>
<rect x="50" y="1064" width="2" height="8" fill="#000"/>
<rect x="64" y="1064" width="2" height="8" fill="#000"/>
<rect x="52" y="1062" width="2" height="2" fill="#000"/>
<rect x="62" y="1062" width="2" height="2" fill="#000"/>
<rect x="52" y="1072" width="2" height="2" fill="#000"/>
<rect x="62" y="1072" width="2" height="2" fill="#000"/>
<rect x="56" y="1064" width="4" height="8" fill="#FF0000"/>
<rect x="54" y="1066" width="8" height="4" fill="#FF0000"/>
<rect x="40" y="1308" width="142" height="2" fill="#CBD2DB"/>
<rect x="40" y="1308" width="2" height="40" fill="#CBD2DB"/>
<rect x="178" y="1308" width="2" height="40" fill="#CBD2DB"/>
<rect x="40" y="1346" width="140" height="4" fill="#CBD2DB"/>
<text x="67.5" y="1339.5" font-size="25.5" fill="#FF7F00" font-family='"Liberation Sans","Noto Sans CJK SC",sans-serif' text-anchor="start" font-weight="bold">日线</text>
<polygon points="137.5,1321 146,1338 129,1338" fill="#FF7F00" shape-rendering="auto"/>
<rect x="436" y="1310" width="2" height="10" fill="#CDD3DB"/>
<rect x="1036" y="1310" width="2" height="10" fill="#CDD3DB"/>
<text x="441.00" y="1334" font-size="24.6" fill="#20263A" font-family='"Liberation Sans","Noto Sans CJK SC",sans-serif' font-weight="normal" textLength="88.56" lengthAdjust="spacingAndGlyphs" stroke="#20263A" stroke-width="1.0" stroke-linejoin="round">2026/02</text>
<text x="1041.00" y="1334" font-size="24.6" fill="#20263A" font-family='"Liberation Sans","Noto Sans CJK SC",sans-serif' font-weight="normal" textLength="87.56" lengthAdjust="spacingAndGlyphs" stroke="#20263A" stroke-width="1.0" stroke-linejoin="round">2026/03</text>
<rect x="40" y="1348" width="1424" height="2" fill="#CBD2DB"/>
<rect x="1104" y="1378" width="360" height="2" fill="#CBD2DB"/>
<rect x="40" y="1350" width="2" height="30" fill="#CBD2DB"/>
<rect x="118" y="1350" width="2" height="30" fill="#CBD2DB"/>
<rect x="198" y="1350" width="2" height="30" fill="#CBD2DB"/>
<rect x="314" y="1350" width="2" height="30" fill="#CBD2DB"/>
<rect x="466" y="1350" width="2" height="30" fill="#CBD2DB"/>
<rect x="582" y="1350" width="2" height="30" fill="#CBD2DB"/>
<rect x="698" y="1350" width="2" height="30" fill="#CBD2DB"/>
<rect x="802" y="1350" width="2" height="30" fill="#CBD2DB"/>
<rect x="906" y="1350" width="2" height="30" fill="#CBD2DB"/>
<rect x="1046" y="1350" width="2" height="30" fill="#CBD2DB"/>
<rect x="1102" y="1350" width="2" height="30" fill="#CBD2DB"/>
<rect x="200" y="1348" width="114" height="30" fill="#FF6600"/>
<text x="79" y="1373" font-size="24" fill="#262D42" font-family='"Liberation Mono","Noto Sans CJK SC",monospace' text-anchor="middle" font-weight="normal">指标</text>
<text x="159" y="1373" font-size="24" fill="#262D42" font-family='"Liberation Mono","Noto Sans CJK SC",monospace' text-anchor="middle" font-weight="normal">模板</text>
<text x="221 233 245 263 287" y="1371.5 1371.5 1371.5 1373 1373" font-size="24" fill="#FFFFFF" font-family='"Liberation Mono","Noto Sans CJK SC",monospace' text-anchor="middle"><tspan font-family='"Liberation Serif",serif' font-size="20" stroke="#FFFFFF" stroke-width="0.5">VIP</tspan>指标</text>
<text transform="translate(332,1371.5) scale(0.7,1)" x="8.57 25.71 42.86 60.00 77.14 94.29 111.43 128.57 145.71 162.86" y="0" font-size="22.5" fill="#262D42" font-family='"Liberation Serif",serif' text-anchor="middle" stroke="#262D42" stroke-width="0.55">BARUPDN_UD</text>
<text transform="translate(484,1371.5) scale(0.7,1)" x="8.57 25.71 42.86 60.00 77.14 94.29 111.43" y="0" font-size="22.5" fill="#262D42" font-family='"Liberation Serif",serif' text-anchor="middle" stroke="#262D42" stroke-width="0.55">BIAS_UD</text>
<text transform="translate(600,1371.5) scale(0.7,1)" x="8.57 25.71 42.86 60.00 77.14 94.29 111.43" y="0" font-size="22.5" fill="#262D42" font-family='"Liberation Serif",serif' text-anchor="middle" stroke="#262D42" stroke-width="0.55">BOLL_UD</text>
<text transform="translate(715,1371.5) scale(0.7,1)" x="8.57 25.71 42.86 60.00 77.14 94.29" y="0" font-size="22.5" fill="#262D42" font-family='"Liberation Serif",serif' text-anchor="middle" stroke="#262D42" stroke-width="0.55">CCI_UD</text>
<text transform="translate(819,1371.5) scale(0.7,1)" x="8.57 25.71 42.86 60.00 77.14 94.29" y="0" font-size="22.5" fill="#262D42" font-family='"Liberation Serif",serif' text-anchor="middle" stroke="#262D42" stroke-width="0.55">DMI_UD</text>
<text transform="translate(923,1371.5) scale(0.7,1)" x="8.57 25.71 42.86 60.00 77.14 94.29 111.43 128.57 145.71" y="0" font-size="22.5" fill="#262D42" font-family='"Liberation Serif",serif' text-anchor="middle" stroke="#262D42" stroke-width="0.55">INSIDE_UD</text>
<text transform="translate(1064.5,1374.5) scale(0.7,1)" x="8.57 25.71" y="0" font-size="30" fill="#262D42" font-family='"Liberation Serif",serif' text-anchor="middle" stroke="#262D42" stroke-width="0.55">&gt;&gt;</text>
<text x="1334.5" y="1353" font-size="30" letter-spacing="2.2" font-family='"Liberation Sans","Noto Sans CJK SC",sans-serif' fill="#CDBBAE" transform="translate(1.2,1.2)">FX678</text>
<text x="1334.5" y="1353" font-size="30" letter-spacing="2.2" font-family='"Liberation Sans","Noto Sans CJK SC",sans-serif' fill="#DCE8F7">FX678</text>
</svg>
</body></html>
